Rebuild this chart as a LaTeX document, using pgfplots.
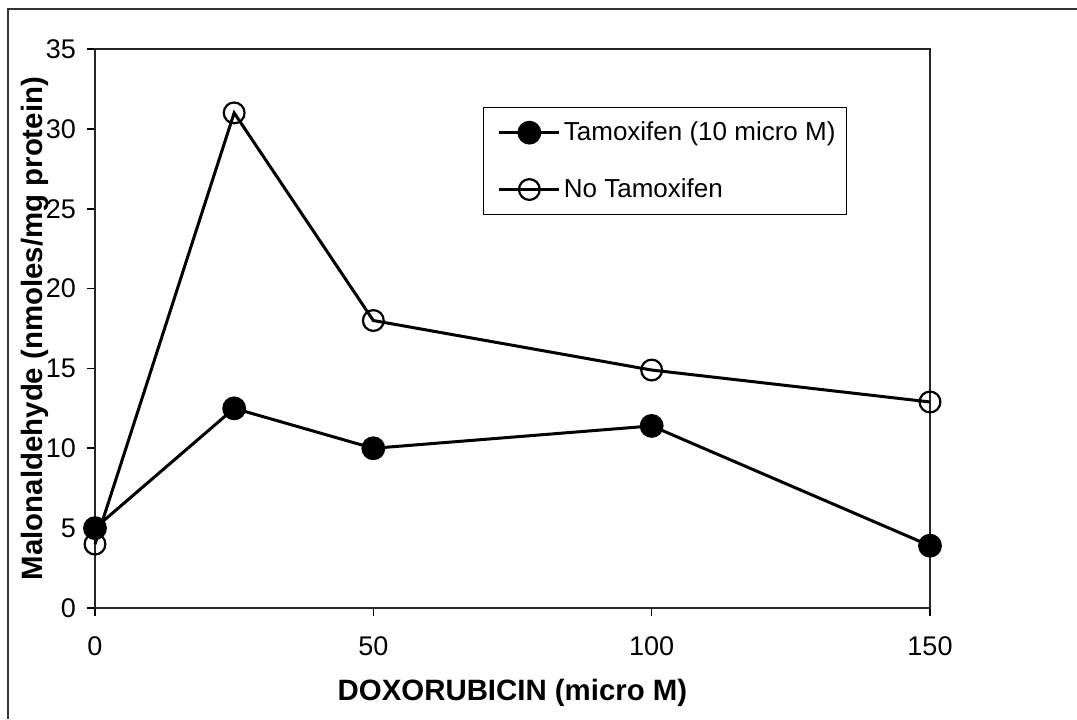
\documentclass[border=0pt]{standalone}
\usepackage{pgfplots}
\pgfplotsset{compat=1.18}
\usepackage{fontspec}
\setmainfont{Liberation Sans}
\begin{document}
\begin{tikzpicture}
\useasboundingbox (0,0) rectangle (538.5pt,-359.5pt);
\draw[line width=1pt, black!80] (4pt,-359.5pt) -- (4pt,-4.5pt) -- (538.5pt,-4.5pt);
\begin{axis}[
  at={(47.5pt,-304pt)}, anchor=south west,
  scale only axis, width=417.5pt, height=279.5pt,
  xmin=0, xmax=150, ymin=0, ymax=35,
  xtick={0,50,100,150}, ytick={0,5,...,35},
  tick align=outside, major tick length=4pt, tick pos=left,
  axis line style={black!85, line width=1pt},
  tick style={black, line width=0.8pt},
  /pgf/number format/assume math mode=true,
  ticklabel style={font=\fontsize{13.5}{16}\selectfont},
  xticklabel style={anchor=north, yshift=-7pt},
  yticklabel style={anchor=east, xshift=-2pt},
  xlabel={DOXORUBICIN (micro M)},
  ylabel={Malonaldehyde (nmoles/mg protein)},
  label style={font=\bfseries\fontsize{14.7}{17}\selectfont},
  xlabel style={at={(axis description cs:0.5,0)}, anchor=base, yshift=-46pt},
  ylabel style={at={([xshift=-26pt]axis description cs:0,0.5)}, anchor=base},
  clip=false,
  reverse legend,
  legend style={at={(0.465,0.896)}, anchor=north west, draw=black, line width=0.6pt,
    font=\fontsize{13}{15.5}\selectfont, inner xsep=4pt, inner ysep=5pt,
    row sep=13.5pt, nodes={inner xsep=1.5pt}},
  legend cell align=left,
  legend image code/.code={%
    \path (0pt,0pt);
    \draw[#1, mark repeat=2, mark phase=2] plot coordinates {(3pt,0pt) (18pt,0pt) (33pt,0pt)};},
]
\addplot[black, line width=1.5pt, mark=o, mark size=5.2pt,
  mark options={fill=white, line width=1.1pt}]
  coordinates {(0,4) (25,31) (50,18) (100,14.9) (150,12.9)};
\addlegendentry{No Tamoxifen}
\addplot[black, line width=1.5pt, mark=*, mark size=5.2pt,
  mark options={fill=black}]
  coordinates {(0,5) (25,12.5) (50,10) (100,11.4) (150,3.9)};
\addlegendentry{Tamoxifen (10 micro M)}
\end{axis}
\end{tikzpicture}
\end{document}
